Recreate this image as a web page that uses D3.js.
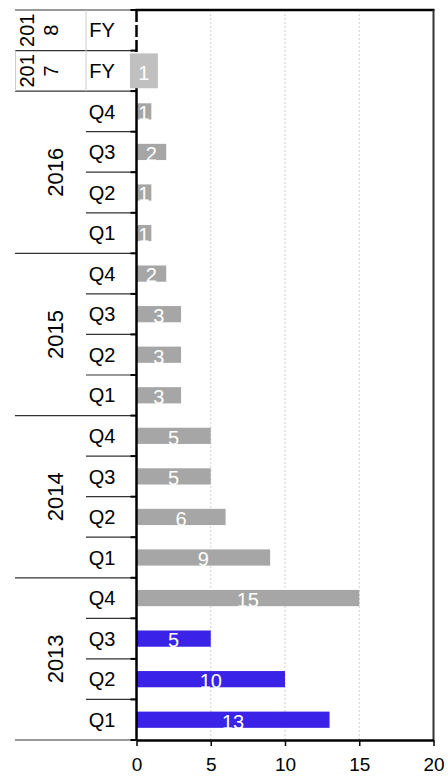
<!DOCTYPE html>
<html>
<head>
<meta charset="utf-8">
<script src="https://cdn.jsdelivr.net/npm/d3@7"></script>
<style>
  html, body { margin: 0; padding: 0; background: #fff; }
  svg { display: block; font-family: "Liberation Sans", Arial, sans-serif; }
</style>
</head>
<body>
<svg id="chart" width="448" height="777"></svg>
<script>
// Rows listed bottom-to-top
const periods = ["Q1","Q2","Q3","Q4","Q1","Q2","Q3","Q4","Q1","Q2","Q3","Q4","Q1","Q2","Q3","Q4","FY","FY"];
const periodYears = ["2013","2013","2013","2013","2014","2014","2014","2014","2015","2015","2015","2015","2016","2016","2016","2016","2017","2018"];
const values = [13,10,5,15,9,6,5,5,3,3,3,2,1,1,2,1,1,0];
const kinds = ["actual","actual","actual","other","other","other","other","other","other","other","other","other","other","other","other","other","annual","annual"];
const xTicks = [0,5,10,15,20];

const colors = { actual: "#3b22e7", other: "#a6a6a6", annual: "#c0c0c0" };

const plotLeft = 136.5, plotRight = 433.5, plotTop = 10, plotBottom = 740;
const svg = d3.select("#chart");

const x = d3.scaleLinear().domain([0, 20]).range([plotLeft, plotRight]);
const rows = d3.range(values.length);
const y = d3.scaleBand().domain(rows).range([plotBottom, plotTop]).padding(0);
const step = y.step();

// gridlines
svg.append("g").selectAll("line")
  .data(xTicks.filter(t => t > 0 && t < 20))
  .join("line")
  .attr("x1", d => x(d)).attr("x2", d => x(d))
  .attr("y1", plotTop).attr("y2", plotBottom)
  .attr("stroke", "#cfcfcf").attr("stroke-width", 1)
  .attr("stroke-dasharray", "2,2");

// bars
const barH = d => kinds[d] === "annual" ? step * 0.86 : step * 0.4;
const barW = d => {
  const w = x(values[d]) - x(0);
  return kinds[d] === "annual" ? (values[d] > 0 ? Math.max(w, 28) : 0) : w;
};
const barCx = d => x(values[d] / 2);
const barsData = rows.filter(d => values[d] > 0);

function drawBars(g, data) {
  g.selectAll("rect")
    .data(data)
    .join("rect")
    .attr("x", d => kinds[d] === "annual" ? barCx(d) - barW(d) / 2 : x(0))
    .attr("y", d => y(d) + (step - barH(d)) / 2)
    .attr("width", d => barW(d))
    .attr("height", d => barH(d))
    .attr("fill", d => colors[kinds[d]]);
  g.selectAll("text")
    .data(data)
    .join("text")
    .attr("x", d => barCx(d))
    .attr("y", d => y(d) + step / 2)
    .attr("dy", "0.44em")
    .attr("text-anchor", "middle")
    .attr("fill", "#fff")
    .attr("font-size", 20)
    .text(d => values[d]);
}

drawBars(svg.append("g"), barsData.filter(d => kinds[d] !== "annual"));

// category separators and ticks
const boundaries = d3.range(values.length + 1);
const by = i => plotBottom - i * step;
const sep = svg.append("g");
boundaries.forEach(i => {
  const yearBreak = i === 0 || i === values.length || periodYears[i] !== periodYears[i - 1];
  sep.append("line")
    .attr("x1", yearBreak ? 15 : 86).attr("x2", plotLeft)
    .attr("y1", by(i)).attr("y2", by(i))
    .attr("stroke", "#333").attr("stroke-width", 1.2);
  sep.append("line")
    .attr("x1", plotLeft - 6).attr("x2", plotLeft)
    .attr("y1", by(i)).attr("y2", by(i))
    .attr("stroke", "#000").attr("stroke-width", 2);
});
// faint column dividers beside the annual rows
sep.append("line").attr("x1", 86).attr("x2", 86).attr("y1", by(18)).attr("y2", by(16))
  .attr("stroke", "#ccc").attr("stroke-width", 1);
sep.append("line").attr("x1", 15.5).attr("x2", 15.5).attr("y1", by(17)).attr("y2", by(16))
  .attr("stroke", "#ccc").attr("stroke-width", 1);

// period labels
svg.append("g").selectAll("text")
  .data(rows)
  .join("text")
  .attr("x", 102)
  .attr("y", d => y(d) + step / 2)
  .attr("dy", "0.36em")
  .attr("text-anchor", "middle")
  .attr("font-size", 20)
  .attr("fill", "#000")
  .text(d => periods[d]);

// year labels (rotated), annual years wrap onto two lines
const years = Array.from(new Set(periodYears));
const yearG = svg.append("g");
years.forEach(yr => {
  const idx = rows.filter(d => periodYears[d] === yr);
  const cy = (d3.min(idx, d => y(d)) + d3.max(idx, d => y(d)) + step) / 2;
  if (idx.length > 1) {
    yearG.append("text")
      .attr("transform", `translate(55,${cy}) rotate(-90)`)
      .attr("dy", "0.36em")
      .attr("text-anchor", "middle")
      .attr("font-size", 22)
      .text(yr);
  } else {
    [[yr.slice(0, 3), 27], [yr.slice(3), 51]].forEach(([t, cx]) => {
      yearG.append("text")
        .attr("transform", `translate(${cx},${cy}) rotate(-90)`)
        .attr("dy", "0.36em")
        .attr("text-anchor", "middle")
        .attr("font-size", 20)
        .text(t);
    });
  }
});

// left axis: solid under quarters, dashed beside annual rows
svg.append("line")
  .attr("x1", plotLeft).attr("x2", plotLeft).attr("y1", by(16)).attr("y2", plotBottom)
  .attr("stroke", "#000").attr("stroke-width", 2.5);
svg.append("line")
  .attr("x1", plotLeft).attr("x2", plotLeft).attr("y1", plotTop).attr("y2", by(16))
  .attr("stroke", "#000").attr("stroke-width", 2.5)
  .attr("stroke-dasharray", "12,3");

// the wide annual bar sits over the axis line
drawBars(svg.append("g"), barsData.filter(d => kinds[d] === "annual"));

// frame
svg.append("line")
  .attr("x1", plotLeft - 1).attr("x2", plotRight + 1).attr("y1", plotTop).attr("y2", plotTop)
  .attr("stroke", "#000").attr("stroke-width", 2.5);
svg.append("line")
  .attr("x1", plotRight).attr("x2", plotRight).attr("y1", plotTop).attr("y2", plotBottom)
  .attr("stroke", "#333").attr("stroke-width", 2);

// bottom axis
const xAxis = d3.axisBottom(x).tickValues(xTicks).tickSize(6).tickSizeOuter(0).tickPadding(12);
const ax = svg.append("g").attr("transform", `translate(0,${plotBottom})`).call(xAxis);
ax.select(".domain").attr("stroke", "#000").attr("stroke-width", 2.5);
ax.selectAll(".tick line").attr("stroke", "#000").attr("stroke-width", 1.5);
ax.selectAll(".tick text").attr("font-size", 19).attr("fill", "#000")
  .attr("font-family", "'Liberation Sans', Arial, sans-serif");
</script>
</body>
</html>
